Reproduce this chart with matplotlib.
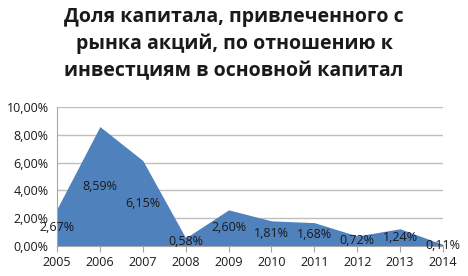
import numpy as np
import matplotlib.pyplot as plt
from matplotlib.ticker import FuncFormatter

years = [2005, 2006, 2007, 2008, 2009, 2010, 2011, 2012, 2013, 2014]
share = [2.67, 8.59, 6.15, 0.58, 2.60, 1.81, 1.68, 0.72, 1.24, 0.11]
labels = ['2,67%', '8,59%', '6,15%', '0,58%', '2,60%', '1,81%', '1,68%', '0,72%', '1,24%', '0,11%']
title = 'Доля капитала, привлеченного с\nрынка акций, по отношению к\nинвестциям в основной капитал'

W, H = 468, 276
fig = plt.figure(figsize=(W / 100, H / 100), dpi=100)
ax = fig.add_axes([57 / W, 1 - 246 / H, (443 - 57) / W, (246 - 107) / H])

ax.fill_between(years, share, 0, color='#4F81BD', linewidth=0, zorder=2)
for x, y, s in zip(years, share, labels):
    ax.text(x, y / 2, s, ha='center', va='center', fontsize=9, color='#1a1a1a',
            family='Open Sans', zorder=3)

ax.set_xlim(years[0], years[-1])
ax.set_ylim(0, 10)
ax.set_yticks(np.arange(0, 10.1, 2))
ax.yaxis.set_major_formatter(FuncFormatter(lambda v, p: ('%.2f%%' % v).replace('.', ',')))
ax.set_xticks(years)
ax.grid(axis='y', color='#bfbfbf', linewidth=1, zorder=0)
for side in ['top', 'right']:
    ax.spines[side].set_visible(False)
for side in ['left', 'bottom']:
    ax.spines[side].set_color('#a6a6a6')
ax.tick_params(axis='both', colors='#a6a6a6', labelcolor='#1a1a1a', labelsize=9, length=4)
ax.tick_params(axis='y', length=0, pad=6)
for t in ax.get_xticklabels() + ax.get_yticklabels():
    t.set_family('Open Sans')

fig.text(0.5, 1 - 7 / H, title, ha='center', va='top', fontsize=14, fontweight='bold',
         family='Open Sans', linespacing=1.45, color='#1a1a1a')

fig.savefig('out.png', dpi=100)
